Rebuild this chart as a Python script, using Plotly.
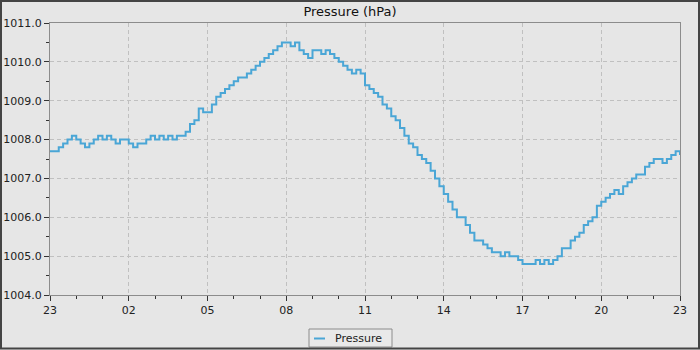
import pandas as pd
import plotly.graph_objects as go

# Sample times: one reading every 10 minutes over 24 hours, starting 23:00
start_time = "2024-03-01 23:00"
sample_step = "10min"

# Sea-level pressure readings (hPa), six per hour
pressure = [
    1007.7, 1007.7, 1007.8, 1007.9, 1008.0, 1008.1,
    1008.0, 1007.9, 1007.8, 1007.9, 1008.0, 1008.1,
    1008.0, 1008.1, 1008.0, 1007.9, 1008.0, 1008.0,
    1007.9, 1007.8, 1007.9, 1007.9, 1008.0, 1008.1,
    1008.0, 1008.1, 1008.0, 1008.1, 1008.0, 1008.1,
    1008.1, 1008.2, 1008.4, 1008.5, 1008.8, 1008.7,
    1008.7, 1008.9, 1009.1, 1009.2, 1009.3, 1009.4,
    1009.5, 1009.6, 1009.6, 1009.7, 1009.8, 1009.9,
    1010.0, 1010.1, 1010.2, 1010.3, 1010.4, 1010.5,
    1010.5, 1010.4, 1010.5, 1010.3, 1010.2, 1010.1,
    1010.3, 1010.3, 1010.2, 1010.3, 1010.2, 1010.1,
    1010.0, 1009.9, 1009.8, 1009.7, 1009.8, 1009.7,
    1009.4, 1009.3, 1009.2, 1009.1, 1008.9, 1008.8,
    1008.6, 1008.5, 1008.3, 1008.1, 1007.9, 1007.8,
    1007.6, 1007.5, 1007.4, 1007.2, 1007.0, 1006.8,
    1006.6, 1006.4, 1006.2, 1006.0, 1006.0, 1005.8,
    1005.6, 1005.4, 1005.4, 1005.3, 1005.2, 1005.1,
    1005.1, 1005.0, 1005.1, 1005.0, 1005.0, 1004.9,
    1004.8, 1004.8, 1004.8, 1004.9, 1004.8, 1004.9,
    1004.8, 1004.9, 1005.0, 1005.2, 1005.2, 1005.4,
    1005.5, 1005.6, 1005.8, 1005.9, 1006.0, 1006.3,
    1006.4, 1006.5, 1006.6, 1006.7, 1006.6, 1006.8,
    1006.9, 1007.0, 1007.1, 1007.1, 1007.3, 1007.4,
    1007.5, 1007.5, 1007.4, 1007.5, 1007.6, 1007.7,
    1007.6,
]

y_range = [1004.0, 1011.0]
series_name = "Pressure"
chart_title = "Pressure (hPa)"

times = pd.date_range(start_time, periods=len(pressure), freq=sample_step)

LINE_COLOR = "#4aa6d6"
BG = "#e6e6e6"
AXIS = "#8c8c8c"
GRID = "#c0c0c0"
FONT = "DejaVu Sans"

W, H = 700, 350
L, R, T, B = 50, 20, 23, 55
PW, PH = W - L - R, H - T - B


def px_x(px):
    return (px - L) / PW


def px_y(py):
    return (H - B - py) / PH


fig = go.Figure()
fig.add_trace(go.Scatter(
    x=times, y=pressure, mode="lines", name=series_name,
    line=dict(color=LINE_COLOR, width=2, shape="hv"),
    showlegend=False,
))

axis_common = dict(
    showline=True, linecolor=AXIS, linewidth=1, mirror=True,
    ticks="outside", ticklen=5, tickwidth=1, tickcolor="#333333",
    showgrid=True, gridcolor=GRID, gridwidth=1, griddash="4px,3px",
    zeroline=False, automargin=False,
    tickfont=dict(family=FONT, size=11, color="#222222"),
)

fig.update_xaxes(
    **axis_common,
    type="date",
    range=[times[0], times[-1]],
    tick0=times[0], dtick=3 * 3600 * 1000, tickformat="%H",
    minor=dict(dtick=3600 * 1000, ticks="outside", ticklen=3,
               tickcolor="#333333", showgrid=False),
)
fig.update_yaxes(
    **axis_common,
    range=y_range, dtick=1.0, tickformat=".1f",
    minor=dict(dtick=0.5, ticks="outside", ticklen=3,
               tickcolor="#333333", showgrid=False),
)

# Legend box drawn below the plot
lx0, lx1, ly0, ly1 = 309, 392, 329, 347
shapes = [
    dict(type="rect", xref="paper", yref="paper",
         x0=px_x(lx0), x1=px_x(lx1), y0=px_y(ly1), y1=px_y(ly0),
         line=dict(color="#8c8c8c", width=1), fillcolor="#e9e9e9"),
    dict(type="line", xref="paper", yref="paper",
         x0=px_x(314), x1=px_x(325), y0=px_y(338.5), y1=px_y(338.5),
         line=dict(color=LINE_COLOR, width=2)),
    # Outer frame around the whole chart
    dict(type="rect", xref="paper", yref="paper",
         x0=px_x(1), x1=px_x(699), y0=px_y(348.5), y1=px_y(1),
         line=dict(color="#444444", width=2), fillcolor="rgba(0,0,0,0)"),
]
annotations = [
    dict(text=series_name, xref="paper", yref="paper",
         x=px_x(333), y=px_y(338), xanchor="left", yanchor="middle",
         showarrow=False, font=dict(family=FONT, size=11, color="#222222")),
]

fig.update_layout(
    width=W, height=H,
    margin=dict(l=L, r=R, t=T, b=B, pad=0),
    paper_bgcolor=BG, plot_bgcolor=BG,
    title=dict(text=chart_title, x=0.5, xref="container", xanchor="center",
               y=1 - 11 / H, yref="container", yanchor="middle",
               font=dict(family=FONT, size=13, color="#111111")),
    shapes=shapes, annotations=annotations,
    showlegend=False,
)

fig.write_html("out.html")
